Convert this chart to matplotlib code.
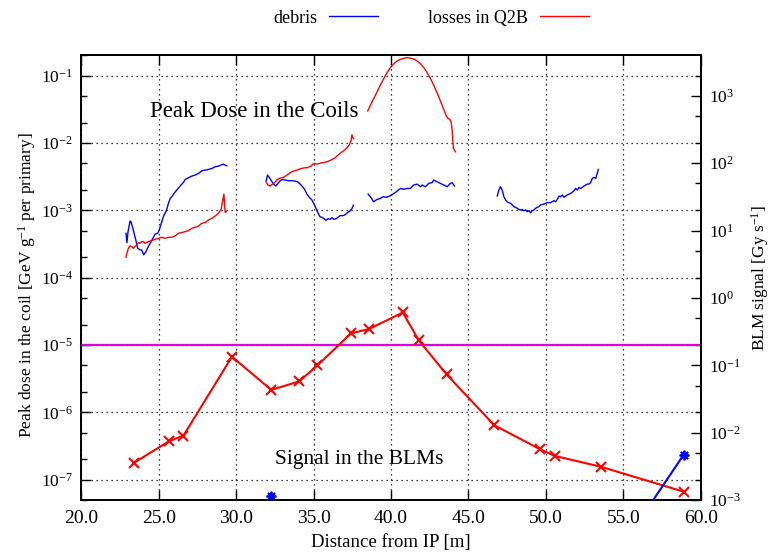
import matplotlib
matplotlib.use("Agg")
import matplotlib.pyplot as plt
from matplotlib.ticker import FormatStrFormatter, LogLocator, LogFormatterSciNotation, NullFormatter

plt.rcParams['font.family'] = ['Liberation Serif', 'DejaVu Serif']
plt.rcParams['mathtext.fontset'] = 'custom'
plt.rcParams['mathtext.rm'] = 'Liberation Serif'
plt.rcParams['mathtext.it'] = 'Liberation Serif:italic'
plt.rcParams['font.size'] = 12

# peak dose in the coils [GeV/g per primary], debris (blue)
debris_x1 = [22.89, 22.95, 23.02, 23.15, 23.21, 23.36, 23.52, 23.64, 23.80, 23.90, 24.03, 24.18, 24.33,
             24.51, 24.66, 24.77, 24.94, 25.05, 25.20, 25.30, 25.41, 25.52, 25.63, 25.74, 25.84, 26.02,
             26.17, 26.38, 26.60, 26.71, 26.92, 27.14, 27.35, 27.57, 27.78, 28.00, 28.21, 28.43, 28.65,
             28.86, 29.08, 29.18, 29.29, 29.40]
debris_y1 = [4.56e-4, 3.31e-4, 4.82e-4, 6.93e-4, 6.78e-4, 5.11e-4, 3.63e-4, 2.73e-4, 2.58e-4, 2.58e-4,
             2.18e-4, 2.44e-4, 2.89e-4, 3.43e-4, 3.97e-4, 4.45e-4, 4.56e-4, 5.22e-4, 6.79e-4, 8.05e-4,
             9.02e-4, 1.03e-3, 1.27e-3, 1.50e-3, 1.59e-3, 1.82e-3, 2.00e-3, 2.29e-3, 2.60e-3, 2.87e-3,
             3.04e-3, 3.22e-3, 3.33e-3, 3.53e-3, 3.86e-3, 3.95e-3, 4.04e-3, 4.18e-3, 4.43e-3, 4.53e-3,
             4.74e-3, 4.85e-3, 4.69e-3, 4.58e-3]
debris_x2 = [31.94, 32.03, 32.14, 32.27, 32.42, 32.57, 32.70, 32.85, 33.00, 33.17, 33.39, 33.60, 33.82,
             33.99, 34.14, 34.29, 34.42, 34.57, 34.72, 34.90, 35.03, 35.16, 35.28, 35.41, 35.54, 35.67,
             35.80, 35.93, 36.06, 36.19, 36.32, 36.45, 36.58, 36.71, 36.84, 36.97, 37.09, 37.22, 37.35,
             37.48, 37.57]
debris_y2 = [2.75e-3, 3.33e-3, 3.08e-3, 2.75e-3, 2.45e-3, 2.29e-3, 2.51e-3, 2.75e-3, 2.87e-3, 2.81e-3,
             2.75e-3, 2.75e-3, 2.72e-3, 2.63e-3, 2.45e-3, 2.24e-3, 2.05e-3, 1.74e-3, 1.56e-3, 1.42e-3,
             1.24e-3, 1.07e-3, 9.22e-4, 8.05e-4, 7.87e-4, 7.52e-4, 7.10e-4, 7.52e-4, 7.35e-4, 7.78e-4,
             7.35e-4, 7.52e-4, 7.87e-4, 8.33e-4, 8.33e-4, 8.42e-4, 8.81e-4, 9.33e-4, 9.77e-4, 1.06e-3,
             1.19e-3]
debris_x3 = [38.52, 38.67, 38.88, 39.10, 39.31, 39.49, 39.70, 39.92, 40.13, 40.35, 40.61, 40.82, 41.04,
             41.25, 41.47, 41.69, 41.90, 42.01, 42.22, 42.44, 42.65, 42.76, 42.98, 43.19, 43.41, 43.63,
             43.84, 43.95, 44.10]
debris_y3 = [1.74e-3, 1.59e-3, 1.34e-3, 1.45e-3, 1.50e-3, 1.59e-3, 1.56e-3, 1.63e-3, 1.74e-3, 1.89e-3,
             2.11e-3, 2.05e-3, 2.11e-3, 2.11e-3, 2.37e-3, 2.45e-3, 2.24e-3, 2.37e-3, 2.24e-3, 2.51e-3,
             2.57e-3, 2.81e-3, 2.65e-3, 2.51e-3, 2.37e-3, 2.24e-3, 2.51e-3, 2.57e-3, 2.29e-3]
debris_x4 = [46.86, 46.97, 47.07, 47.18, 47.29, 47.40, 47.50, 47.61, 47.72, 47.83, 47.94, 48.04, 48.15,
             48.26, 48.37, 48.47, 48.58, 48.69, 48.80, 48.91, 49.01, 49.12, 49.23, 49.34, 49.44, 49.55,
             49.66, 49.88, 50.09, 50.31, 50.52, 50.63, 50.74, 50.85, 50.95, 51.06, 51.17, 51.28, 51.38,
             51.60, 51.82, 51.92, 52.03, 52.14, 52.25, 52.46, 52.68, 52.79, 52.89, 53.00, 53.11, 53.22,
             53.32, 53.39]
debris_y4 = [1.63e-3, 2.00e-3, 2.24e-3, 2.00e-3, 1.59e-3, 1.42e-3, 1.34e-3, 1.30e-3, 1.27e-3, 1.20e-3,
             1.13e-3, 1.11e-3, 1.07e-3, 1.03e-3, 1.01e-3, 1.03e-3, 9.88e-4, 1.01e-3, 9.55e-4, 9.88e-4,
             9.22e-4, 9.88e-4, 1.01e-3, 1.07e-3, 1.11e-3, 1.13e-3, 1.20e-3, 1.24e-3, 1.30e-3, 1.30e-3,
             1.39e-3, 1.34e-3, 1.45e-3, 1.63e-3, 1.59e-3, 1.69e-3, 1.56e-3, 1.63e-3, 1.69e-3, 1.78e-3,
             1.95e-3, 2.11e-3, 2.00e-3, 2.19e-3, 2.11e-3, 2.29e-3, 2.45e-3, 2.45e-3, 2.57e-3, 2.98e-3,
             3.08e-3, 2.98e-3, 3.53e-3, 4.04e-3]

# peak dose, losses in Q2B (red)
q2b_x1 = [22.89, 22.95, 23.04, 23.15, 23.26, 23.36, 23.47, 23.58, 23.69, 23.80, 23.90, 24.01, 24.12,
          24.23, 24.33, 24.55, 24.77, 24.98, 25.20, 25.41, 25.63, 25.84, 26.06, 26.27, 26.49, 26.71,
          26.92, 27.14, 27.35, 27.57, 27.78, 28.00, 28.21, 28.43, 28.65, 28.86, 29.03, 29.12, 29.21,
          29.25, 29.29, 29.38]
q2b_y1 = [2.01e-4, 2.30e-4, 2.73e-4, 2.96e-4, 2.89e-4, 2.73e-4, 2.89e-4, 3.06e-4, 3.31e-4, 3.24e-4,
          3.43e-4, 3.43e-4, 3.24e-4, 3.31e-4, 3.43e-4, 3.55e-4, 3.71e-4, 3.84e-4, 3.98e-4, 3.84e-4,
          3.98e-4, 3.98e-4, 4.16e-4, 4.56e-4, 4.67e-4, 4.82e-4, 4.99e-4, 5.40e-4, 5.59e-4, 5.85e-4,
          6.41e-4, 6.56e-4, 7.18e-4, 7.60e-4, 8.24e-4, 9.02e-4, 1.03e-3, 1.34e-3, 1.74e-3, 1.27e-3,
          9.33e-4, 9.55e-4]
q2b_x2 = [31.94, 32.05, 32.20, 32.35, 32.48, 32.63, 32.78, 32.96, 33.13, 33.28, 33.43, 33.60, 33.78,
          33.93, 34.08, 34.25, 34.42, 34.57, 34.72, 34.85, 34.94, 35.07, 35.22, 35.37, 35.54, 35.72,
          35.87, 36.02, 36.19, 36.36, 36.51, 36.66, 36.79, 36.94, 37.09, 37.22, 37.33, 37.42, 37.48,
          37.53, 37.59]
q2b_y2 = [2.65e-3, 2.37e-3, 2.29e-3, 2.45e-3, 2.57e-3, 2.81e-3, 2.98e-3, 3.04e-3, 3.15e-3, 3.33e-3,
          3.53e-3, 3.74e-3, 3.86e-3, 3.95e-3, 4.09e-3, 4.19e-3, 4.28e-3, 4.28e-3, 4.43e-3, 4.53e-3,
          4.85e-3, 4.96e-3, 4.85e-3, 4.96e-3, 5.08e-3, 5.14e-3, 5.26e-3, 5.43e-3, 5.68e-3, 5.95e-3,
          6.37e-3, 6.82e-3, 7.22e-3, 7.65e-3, 8.18e-3, 8.76e-3, 9.60e-3, 1.08e-2, 1.31e-2, 1.21e-2,
          1.16e-2]
q2b_x3 = [38.50, 38.67, 38.88, 39.10, 39.31, 39.53, 39.75, 39.96, 40.18, 40.39, 40.61, 40.82, 41.04,
          41.25, 41.47, 41.69, 41.90, 42.12, 42.33, 42.55, 42.76, 42.98, 43.19, 43.41, 43.58, 43.69,
          43.80, 43.88, 43.95, 43.99, 44.03, 44.10, 44.16]
q2b_y3 = [2.99e-2, 3.63e-2, 4.56e-2, 5.72e-2, 7.18e-2, 9.01e-2, 0.111, 0.131, 0.150, 0.165, 0.174, 0.180,
          0.185, 0.182, 0.176, 0.165, 0.150, 0.131, 0.111, 9.01e-2, 7.18e-2, 5.53e-2, 4.21e-2, 3.13e-2,
          2.49e-2, 2.30e-2, 2.23e-2, 2.06e-2, 1.55e-2, 1.10e-2, 8.27e-3, 7.82e-3, 7.39e-3]

# BLM signal [Gy/s]
blm_q2b_x = [23.43, 25.67, 26.60, 29.73, 32.27, 34.08, 35.25, 37.42, 38.59, 40.76, 41.80, 43.59,
             46.67, 49.62, 50.58, 53.55, 58.90]
blm_q2b_y = [3.60e-3, 7.46e-3, 9.06e-3, 0.134, 0.0432, 0.0578, 0.0998, 0.298, 0.346, 0.608, 0.234,
             0.0732, 0.0129, 5.68e-3, 4.52e-3, 3.12e-3, 1.33e-3]
blm_debris_x = [29.73, 32.27, 34.08, 53.55, 58.90]
blm_debris_y = [1.0e-4, 1.14e-3, 1.0e-4, 7.0e-5, 4.7e-3]
blm_threshold = 0.2

fig = plt.figure(figsize=(7.74, 5.53), dpi=100)
ax = fig.add_axes([0.105, 0.0958, 0.8003, 0.8042])
ax2 = ax.twinx()

blue = '#0000ff'
red = '#ff0000'
for xs, ys in [(debris_x1, debris_y1), (debris_x2, debris_y2), (debris_x3, debris_y3), (debris_x4, debris_y4)]:
    ax.plot(xs, ys, color=blue, lw=1.0)
for xs, ys in [(q2b_x1, q2b_y1), (q2b_x2, q2b_y2), (q2b_x3, q2b_y3)]:
    ax.plot(xs, ys, color=red, lw=1.0)

ax2.axhline(blm_threshold, color='#e000e0', lw=1.6)
ax2.plot(blm_q2b_x, blm_q2b_y, color=red, lw=1.5, marker='x', ms=7, mew=1.5)
ax2.plot(blm_debris_x, blm_debris_y, color=blue, lw=1.5, marker=(8, 2, 0), ms=7, mew=1.3)

ax.set_xlim(20, 60)
ax.set_yscale('log')
ax.set_ylim(5e-8, 0.2)
ax2.set_yscale('log')
ax2.set_ylim(1e-3, 4e3)

ax.xaxis.set_major_formatter(FormatStrFormatter('%.1f'))
ax.set_xticks([20, 25, 30, 35, 40, 45, 50, 55, 60])
for a in (ax, ax2):
    a.yaxis.set_major_locator(LogLocator(base=10, numticks=20))
    a.yaxis.set_major_formatter(LogFormatterSciNotation())
    a.yaxis.set_minor_locator(LogLocator(base=10, subs=[2, 5], numticks=20))
    a.yaxis.set_minor_formatter(NullFormatter())
ax.set_yticks([1e-7, 1e-6, 1e-5, 1e-4, 1e-3, 1e-2, 1e-1])
ax2.set_yticks([1e-3, 1e-2, 1e-1, 1, 10, 100, 1000])

ax.tick_params(axis='x', which='both', direction='in', top=True, length=7, width=1, labelsize=14, pad=7)
ax.tick_params(axis='y', which='major', direction='in', length=7, width=1, labelsize=12.5, pad=6)
ax.tick_params(axis='y', which='minor', direction='in', length=4, width=1)
ax2.tick_params(axis='y', which='major', direction='in', length=7, width=1, labelsize=12.5, pad=6)
ax2.tick_params(axis='y', which='minor', direction='in', length=4, width=1)
for a in (ax, ax2):
    for s in a.spines.values():
        s.set_linewidth(1.3)

ax.grid(True, which='major', color='black', linestyle=(0, (1, 3)), lw=0.9)

ax.set_xlabel('Distance from IP [m]', fontsize=13.5, labelpad=5)
ax.set_ylabel('Peak dose in the coil [GeV g$^{-1}$ per primary]', fontsize=12.5)
ax.yaxis.set_label_coords(-0.07, 0.484)
ax2.set_ylabel('BLM signal [Gy s$^{-1}$]', fontsize=12.5, labelpad=6)

ax.text(24.45, 0.0296, 'Peak Dose in the Coils', fontsize=16.5, ha='left', va='center')
ax.text(32.5, 2.0e-7, 'Signal in the BLMs', fontsize=15.5, ha='left', va='center')

h1, = ax.plot([], [], color=blue, lw=1.0, label='debris')
h2, = ax.plot([], [], color=red, lw=1.0, label='losses in Q2B')
fig.legend(handles=[h1, h2], loc='center', bbox_to_anchor=(0.557, 0.967), ncol=2, frameon=False,
           markerfirst=False, handlelength=2.7, handletextpad=0.65, columnspacing=2.8, fontsize=13)

fig.savefig('out.png', dpi=100)
